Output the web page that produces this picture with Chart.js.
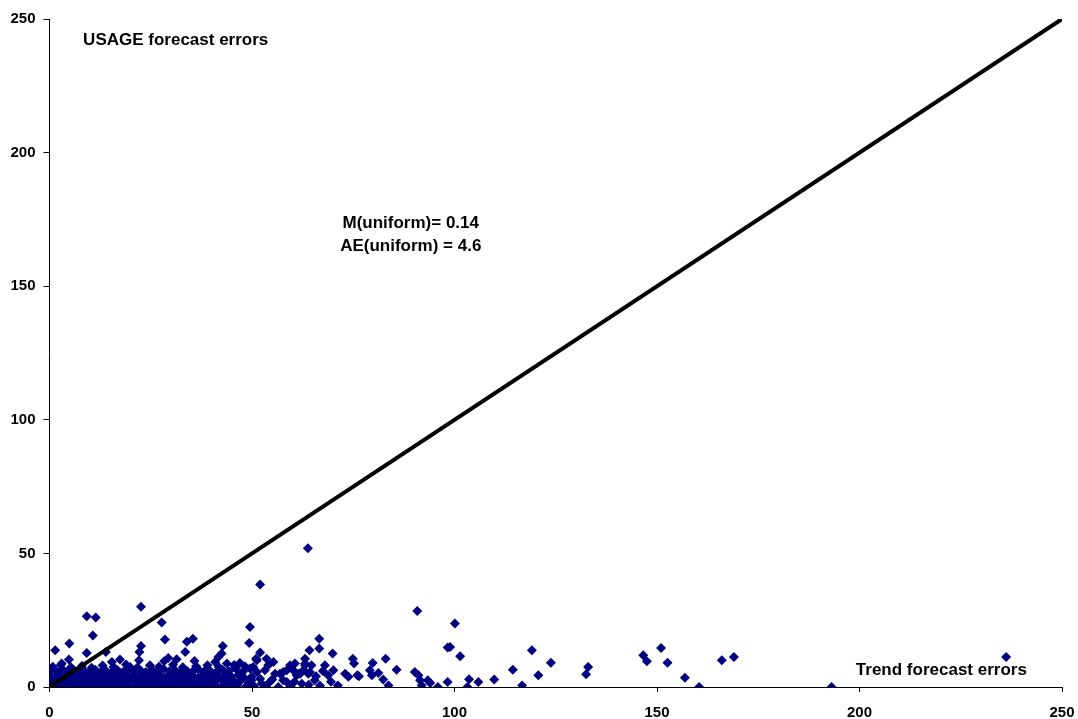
<!DOCTYPE html>
<html>
<head>
<meta charset="utf-8">
<script src="https://cdn.jsdelivr.net/npm/chart.js@4/dist/chart.umd.min.js"></script>
<style>
  body { margin: 0; background: #fff; }
  canvas { display: block; }
</style>
</head>
<body>
<canvas id="graficoErros" width="1078" height="719"></canvas>
<script>
// trend forecast error (x) vs USAGE forecast error (y)
var bandaDensa = [
  [0,0.3],[1.2,0.8],[2.4,0.1],[3.5,0.6],[4.8,0.2],[5.9,0.9],[7.1,0.4],[8.3,0.1],[9.4,0.7],[10.6,0.3],
  [11.8,0.9],[12.9,0.2],[14.1,0.6],[15.3,0.1],[16.4,0.8],[17.6,0.3],[18.8,0.5],[19.9,0.1],[21.1,0.7],[22.3,0.2],
  [23.4,0.9],[24.6,0.4],[25.8,0.1],[26.9,0.6],[28.1,0.3],[29.3,0.8],[30.4,0.2],[31.6,0.5],[32.8,0.1],[33.9,0.7],
  [35.1,0.3],[36.3,0.9],[37.4,0.2],[38.6,0.6],[40.2,0.4],[41.5,0.1],[43.0,0.8],[44.6,0.3],[46.3,0.6],[48.5,0.2],
  [0.4,2.1],[1.7,2.6],[3.0,1.8],[4.2,2.4],[5.5,1.9],[6.7,2.8],[7.9,2.0],[9.1,2.5],[10.2,1.7],[11.5,2.3],
  [12.6,2.9],[13.8,1.9],[15.0,2.4],[16.1,2.0],[17.3,2.7],[18.5,1.8],[19.6,2.3],[20.8,2.9],[22.0,2.1],[23.1,2.6],
  [24.3,1.8],[25.5,2.4],[26.6,2.0],[27.8,2.8],[29.0,1.9],[30.1,2.5],[31.3,2.1],[32.5,2.7],[33.6,1.8],[34.8,2.4],
  [36.0,2.0],[37.1,2.6],[38.3,1.9],[39.7,2.5],[41.0,2.2],[42.4,2.8],[43.9,1.9],[45.3,2.6],[47.0,2.1],[49.2,1.7],
  [0.2,4.1],[1.4,3.6],[2.6,4.5],[3.9,3.8],[5.1,4.3],[6.3,3.5],[7.5,4.6],[8.7,3.9],[9.8,4.4],[11.0,3.7],
  [12.2,4.2],[13.4,3.6],[14.6,4.7],[15.7,3.9],[16.9,4.3],[18.1,3.5],[19.2,4.5],[20.4,4.0],[21.6,3.6],[22.7,4.4],
  [23.9,3.8],[25.1,4.6],[26.2,3.9],[27.4,4.2],[28.6,3.6],[29.7,4.5],[30.9,3.8],[32.1,4.3],[33.3,3.7],[34.4,4.6],
  [35.6,4.0],[36.8,3.6],[37.9,4.4],[39.2,3.9],[40.6,4.6],[42.0,3.7],[43.4,4.3],[44.9,3.9],[46.6,4.5],[48.0,3.6],
  [0.5,6.2],[1.9,5.6],[3.2,6.6],[4.5,5.8],[6.0,6.4],[7.3,5.5],[8.6,6.1],[10.0,5.7],[11.3,6.5],[12.7,5.6],
  [14.0,6.0],[15.4,5.5],[16.8,6.3],[18.2,5.7],[19.5,6.6],[20.9,5.9],[22.5,6.2],[23.8,5.6],[25.3,6.4],[26.7,5.8],
  [28.2,6.7],[29.6,5.9],[31.0,6.3],[32.4,5.6],[33.9,6.1],[35.3,5.7],[36.7,6.6],[38.1,5.8],[39.6,6.2],[41.2,5.6],
  [42.8,6.4],[44.3,5.9],[46.0,6.8],[47.8,5.8],
  [0.8,7.6],[2.8,8.2],[5.3,7.4],[8.0,7.9],[10.4,7.2],[13.1,8.0],[15.8,7.5],[18.9,8.4],[21.7,7.3],[24.8,8.1],
  [27.0,7.6],[30.5,8.3],[32.9,7.4],[36.2,7.8],[39.0,8.1],[41.8,7.5],[45.6,8.2],[48.3,7.7],
  [50.5,0.4],[53.5,0.2],[55.0,2.8],[59.5,0.3],[60.5,2.0],[62.3,1.2],[65.5,2.5],[66.8,0.5],[67.5,6.0],[65.8,4.0],
  [69.5,2.0],[64.0,0.8]
];

var pontosEspalhados = [
  [63.8,51.9],[52.0,38.4],[22.6,30.0],[9.2,26.5],[11.4,26.0],[27.7,24.1],[10.7,19.3],[49.5,22.5],[90.8,28.4],[100.1,23.8],
  [1.4,13.8],[4.9,16.3],[9.2,12.7],[13.9,13.1],[4.8,10.3],[3.0,8.8],[22.6,15.3],[22.2,13.1],[17.4,10.3],[22.1,10.0],
  [15.4,9.4],[19.9,7.5],[28.5,17.8],[33.9,16.9],[35.4,18.1],[33.5,13.1],[42.8,15.3],[42.5,12.5],[49.3,16.5],[29.3,10.9],
  [28.3,9.6],[31.4,10.4],[35.8,9.7],[40.9,9.4],[41.7,11.2],[43.8,8.8],[47.0,9.0],[45.8,7.5],[51.0,10.6],[49.5,6.9],
  [52.0,12.9],[51.2,10.0],[53.6,10.6],[55.3,9.4],[50.3,7.5],[53.2,6.3],[49.9,3.8],[52.4,1.3],[54.4,1.9],[56.5,0.0],
  [57.7,5.6],[55.7,5.0],[58.6,1.9],[59.4,8.1],[60.6,8.8],[61.9,5.0],[63.1,10.6],[64.2,13.8],[64.7,8.1],[63.9,5.0],
  [66.6,18.1],[66.6,14.4],[68.0,8.1],[68.8,4.4],[69.9,12.5],[70.1,6.3],[71.2,0.6],[73.0,5.0],[73.8,3.8],[74.9,10.6],
  [75.2,8.8],[76.0,4.4],[60.2,6.3],[61.0,4.4],[62.7,6.3],[58.6,6.3],[56.9,5.0],[57.7,2.5],[52.0,3.1],[51.2,5.6],
  [54.0,8.1],[63.1,8.1],[49.9,2.5],[61.4,5.0],[64.3,5.6],[63.1,8.8],
  [79.8,9.0],[83.0,10.6],[85.7,6.5],[76.4,4.0],[79.1,6.3],[79.6,4.4],[81.2,5.2],[82.4,2.8],[83.7,0.6],[90.2,5.6],
  [91.1,4.4],[91.5,2.5],[91.9,0.6],[93.4,2.5],[94.0,1.5],[95.9,0.0],[98.3,1.9],[98.3,14.8],[98.9,15.0],[101.4,11.5],
  [103.6,2.9],[103.2,0.0],[105.9,1.9],[109.8,2.8],[114.4,6.5],[116.7,0.6],[119.1,13.8],[120.7,4.4],[123.8,9.1],[132.5,4.8],
  [133.0,7.5],[146.6,11.9],[147.5,9.6],[151.0,14.6],[152.6,9.1],[156.9,3.5],[160.4,0.0],[166.0,10.0],[169.0,11.2],[193.1,0.0],
  [236.2,11.2]
];

var diagonal = [0, 250];
var ticksEixo = [0, 50, 100, 150, 200, 250];

var notas = [
  { texto: 'USAGE forecast errors', x: 8.3, y: 240.1, alinhar: 'left' },
  { texto: 'M(uniform)= 0.14', x: 89.2, y: 171.6, alinhar: 'center' },
  { texto: 'AE(uniform) = 4.6', x: 89.2, y: 163.1, alinhar: 'center' },
  { texto: 'Trend forecast errors', x: 199.1, y: 4.4, alinhar: 'left' }
];

var fonteTicks = { family: 'Liberation Sans', size: 15, weight: 'bold' };

var pluginNotas = {
  id: 'notas',
  afterDraw: function(chart) {
    var ctx = chart.ctx;
    ctx.save();
    ctx.fillStyle = '#000';
    ctx.font = 'bold 17px "Liberation Sans"';
    ctx.textBaseline = 'alphabetic';
    notas.forEach(function(n) {
      ctx.textAlign = n.alinhar;
      ctx.fillText(n.texto, chart.scales.x.getPixelForValue(n.x), chart.scales.y.getPixelForValue(n.y));
    });
    ctx.restore();
  }
};

function eixo(lado) {
  return {
    type: 'linear',
    min: ticksEixo[0],
    max: ticksEixo[ticksEixo.length - 1],
    afterBuildTicks: function(s) { s.ticks = ticksEixo.map(function(v) { return { value: v }; }); },
    ticks: { color: '#000', font: fonteTicks, padding: lado == 'x' ? 12 : 8, maxRotation: 0 },
    grid: { display: true, drawOnChartArea: false, drawTicks: true, tickLength: lado == 'x' ? 5 : 6, color: '#000', tickColor: '#000' },
    border: { display: true, color: '#000', width: 1 },
    afterFit: function(s) {
      if (lado == 'x') { s.height = 32; s.paddingLeft = 0; s.paddingRight = 0; }
      else { s.width = 49.5; s.paddingTop = 0; s.paddingBottom = 0; }
    }
  };
}

var ctx = document.getElementById('graficoErros').getContext('2d');
var grafico = new Chart(ctx, {
  type: 'scatter',
  data: {
    datasets: [{
      type: 'line',
      data: diagonal.map(function(v) { return { x: v, y: v }; }),
      borderColor: '#000',
      borderWidth: 4,
      pointRadius: 0,
      fill: false,
      order: 0
    }, {
      data: bandaDensa.concat(pontosEspalhados).map(function(p) { return { x: p[0], y: p[1] }; }),
      pointStyle: 'rectRot',
      pointRadius: 5,
      backgroundColor: '#000080',
      borderColor: '#000080',
      borderWidth: 0,
      order: 1
    }]
  },
  options: {
    responsive: false,
    animation: false,
    layout: { padding: { top: 19, right: 16, left: 0, bottom: 0 } },
    plugins: { legend: { display: false }, tooltip: { enabled: false } },
    scales: { x: eixo('x'), y: eixo('y') }
  },
  plugins: [pluginNotas]
});
</script>
</body>
</html>
